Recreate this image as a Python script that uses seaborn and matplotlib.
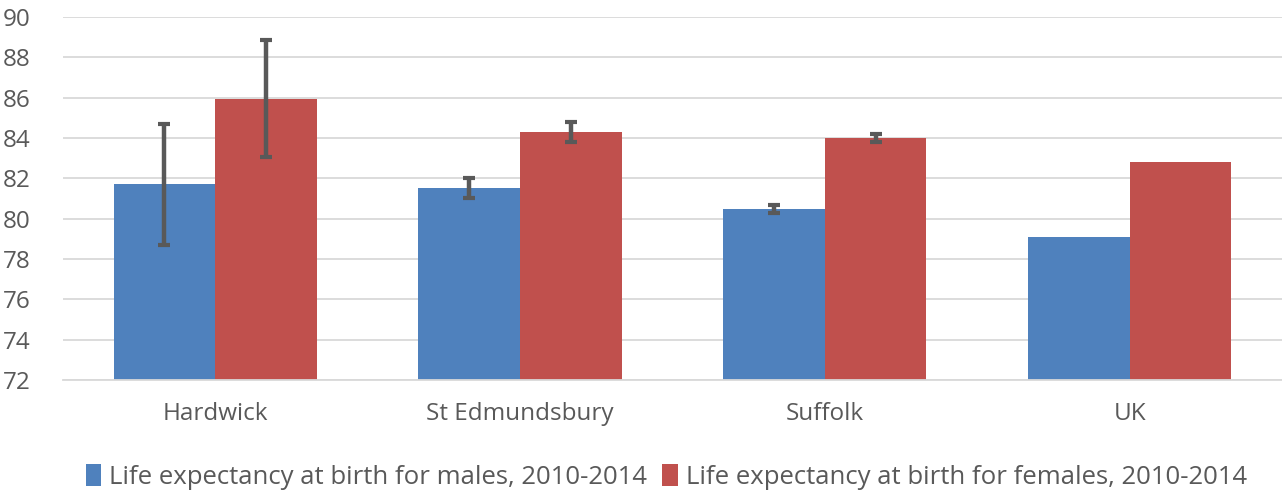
import numpy as np
import pandas as pd
import matplotlib
matplotlib.use("Agg")
import matplotlib.pyplot as plt
import seaborn as sns

# data
areas = ["Hardwick", "St Edmundsbury", "Suffolk", "UK"]
male = [81.7, 81.5, 80.5, 79.1]
female = [85.95, 84.3, 84.0, 82.8]
male_err = [3.0, 0.5, 0.2, 0.0]
female_err = [2.9, 0.5, 0.21, 0.0]
series = ["Life expectancy at birth for males, 2010-2014",
          "Life expectancy at birth for females, 2010-2014"]
colors = ["#4F81BD", "#C0504D"]

df = pd.DataFrame({
    "area": areas * 2,
    "value": male + female,
    "series": [series[0]] * 4 + [series[1]] * 4,
})

sns.set_style("white")
plt.rcParams["font.family"] = ["Open Sans", "DejaVu Sans"]

fig = plt.figure(figsize=(12.82, 4.95), dpi=100)
ax = fig.add_axes([0.049, 0.232, 0.951, 0.734])

sns.barplot(data=df, x="area", y="value", hue="series", palette=colors,
            width=0.667, gap=0, ax=ax, saturation=1, legend=True, linewidth=0)

# error bars on the bar centres
errs = male_err + female_err
for bar, e in zip(ax.patches[:8], errs):
    if e <= 0:
        continue
    cx = bar.get_x() + bar.get_width() / 2
    ax.errorbar(cx, bar.get_height(), yerr=e, color="#595959", lw=3.2,
                capsize=4.5, capthick=3, zorder=5)

ax.set_ylim(72, 90)
ax.set_yticks(np.arange(72, 91, 2))
ax.set_xlim(-0.5, 3.5)
ax.set_xlabel("")
ax.set_ylabel("")
ax.grid(axis="y", color="#D9D9D9", lw=1.3)
ax.set_axisbelow(True)
for s in ["top", "right", "left"]:
    ax.spines[s].set_visible(False)
ax.spines["bottom"].set_color("#D9D9D9")
ax.spines["bottom"].set_linewidth(1.3)
ax.tick_params(axis="both", length=0, labelsize=17.5, colors="#595959")
ax.tick_params(axis="x", pad=16)
ax.tick_params(axis="y", pad=43)
for lab in ax.get_yticklabels():
    lab.set_horizontalalignment("left")

ax.legend(loc="center", bbox_to_anchor=(0.495, -0.267), ncol=2, frameon=False,
          fontsize=18.5, labelcolor="#595959", handlelength=0.6, handleheight=0.9,
          handletextpad=0.3, columnspacing=0.6)

fig.savefig("out.png", dpi=100)
